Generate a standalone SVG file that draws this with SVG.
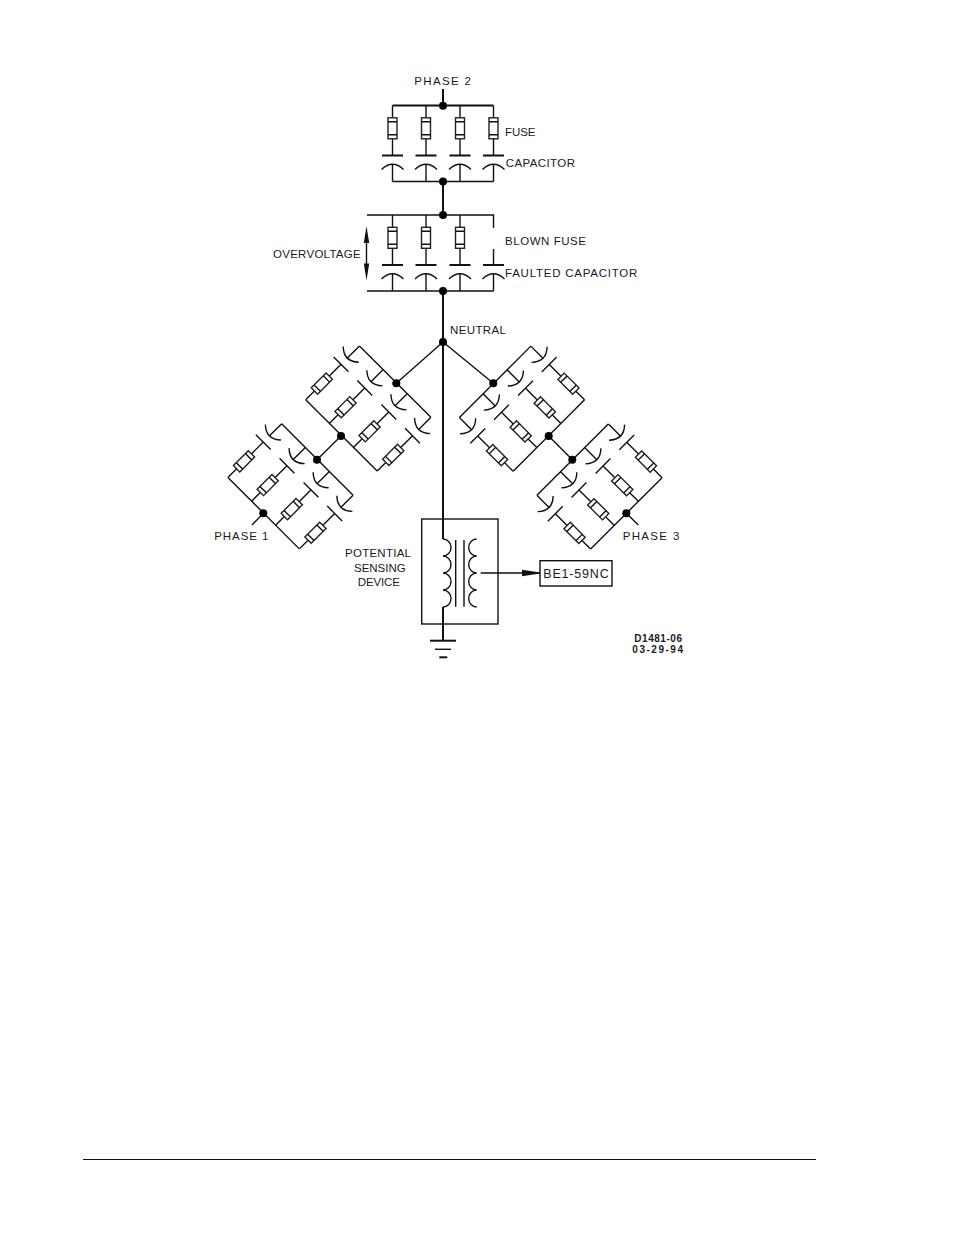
<svg xmlns="http://www.w3.org/2000/svg" width="954" height="1235" viewBox="0 0 954 1235">
<style>
.l{fill:none;stroke:#111;stroke-width:1.4}
.h{fill:none;stroke:#111;stroke-width:2}
.f{fill:#fff;stroke:#222;stroke-width:1.4}
.d{fill:#000}
text{font-family:"Liberation Sans",Arial,sans-serif;font-size:11.5px;fill:#1a1a1a}
.s{font-size:10px;font-weight:bold}
</style>
<defs>
<g id="fuse">
<rect class="f" x="-4.5" y="-10.5" width="9" height="21"/>
<path class="l" d="M-4.5,-6.5H4.5M-4.5,6.5H4.5"/>
</g>
<g id="cap">
<path class="h" d="M-10.5,0H10.5"/>
<path class="l" d="M-11,14Q0,3.5 11,14"/>
</g>
<g id="cap-thin">
<path class="l" d="M-10.5,0H10.5M-11,14Q0,3.5 11,14"/>
</g>
<g id="branch">
<path class="l" d="M0,-38V-25.7M0,-4.7V12M0,20.5V38"/>
<use href="#fuse" y="-15.2"/>
<use href="#cap" y="12"/>
</g>
<g id="branch-thin">
<path class="l" d="M0,-38V-25.7M0,-4.7V12M0,20.5V38"/>
<use href="#fuse" y="-15.2"/>
<use href="#cap-thin" y="12"/>
</g>
<g id="bank">
<path class="l" d="M-50.5,-38H50.5M-50.5,38H50.5"/>
<use href="#branch-thin" x="-50.5"/>
<use href="#branch-thin" x="-17"/>
<use href="#branch-thin" x="17"/>
<use href="#branch-thin" x="50.5"/>
</g>
<marker id="ah" markerUnits="userSpaceOnUse" markerWidth="18" markerHeight="8" refX="18" refY="4" orient="auto"><path d="M0,0.7L18,3.4V4.6L0,7.3Z" fill="#111"/></marker>
</defs>

<g id="bank-top" transform="translate(443,143.5)">
<path class="h" d="M-50.5,-38H50.5"/>
<path class="l" d="M-50.5,38H50.5"/>
<use href="#branch" x="-50.5"/>
<use href="#branch" x="-17"/>
<use href="#branch" x="17"/>
<use href="#branch" x="50.5"/>
</g>

<g id="bank-faulted" transform="translate(443,253)">
<path class="l" d="M-76,-38H50.5V-25M-76,38H50.5M50.5,-4V12M50.5,20.5V38"/>
<use href="#branch" x="-50.5"/>
<use href="#branch" x="-17"/>
<use href="#branch" x="17"/>
<use href="#cap" x="50.5" y="12"/>
</g>

<g id="bank-phase1-upper"><use href="#bank" transform="translate(368.3,408.5) rotate(-135)"/></g>
<g id="bank-phase1-lower"><use href="#bank" transform="translate(290.5,486.3) rotate(-135)"/></g>
<g id="bank-phase3-upper"><use href="#bank" transform="translate(522,408.7) rotate(135)"/></g>
<g id="bank-phase3-lower"><use href="#bank" transform="translate(599.5,486.5) rotate(135)"/></g>

<g id="transformer">
<rect class="l" x="421.7" y="519" width="76.3" height="105"/>
<path class="l" d="M443,539a8,8.5 0 0 1 0,17a8,8.5 0 0 1 0,17a8,8.5 0 0 1 0,17a8,8.5 0 0 1 0,17"/>
<path class="l" d="M455.7,540V606.7M464,540V606.7"/>
<path class="l" d="M476.7,539a8,8.5 0 0 0 0,17a8,8.5 0 0 0 0,17a8,8.5 0 0 0 0,17a8,8.5 0 0 0 0,17"/>
</g>

<g id="relay">
<rect class="l" x="540" y="560.7" width="72" height="25.3"/>
<text x="543.3" y="578.3" textLength="65.4" lengthAdjust="spacing" font-size="12.5" style="font-size:12.5px">BE1-59NC</text>
</g>

<g id="ground">
<path class="h" d="M430,640.7H456"/>
<path class="l" d="M435,649.3H451"/>
<path class="h" d="M439.3,657.3H447.3"/>
</g>

<g id="overvoltage-arrow">
<path class="l" d="M366.5,238V268"/>
<path d="M366.5,226L369.2,243H363.8Z M366.5,280.5L369.2,263.5H363.8Z" fill="#111"/>
</g>

<g id="connectors">
<path class="h" d="M443,89V105.7M443,181.5V215M443,291V539M443,607V640.7"/>
<path class="l" d="M443,342L396.3,383.3M443,342L493.3,383.3M341,436L317,459.7M548.7,436L572.3,459.7M263.3,513.3L252,525M626.3,513.3L638.3,525"/>
<path class="l" d="M480.7,573H540" marker-end="url(#ah)"/>
<g class="d">
<circle cx="443" cy="105.7" r="4"/><circle cx="443" cy="181.5" r="4"/><circle cx="443" cy="215" r="4"/><circle cx="443" cy="291" r="4"/><circle cx="443" cy="342" r="4"/>
<circle cx="396.3" cy="383.3" r="4"/><circle cx="341" cy="436" r="4"/><circle cx="317" cy="459.7" r="4"/><circle cx="263.3" cy="513.3" r="4"/>
<circle cx="493.3" cy="383.3" r="4"/><circle cx="548.7" cy="436" r="4"/><circle cx="572.3" cy="459.7" r="4"/><circle cx="626.3" cy="513.3" r="4"/>
</g>
</g>

<g id="labels">
<text x="414.3" y="85" textLength="56.7" lengthAdjust="spacing">PHASE 2</text>
<text x="505" y="135.7" textLength="30.5" lengthAdjust="spacing">FUSE</text>
<text x="505.7" y="166.7" textLength="69.3" lengthAdjust="spacing">CAPACITOR</text>
<text x="505" y="245.3" textLength="81" lengthAdjust="spacing">BLOWN FUSE</text>
<text x="505" y="276.7" textLength="132.3" lengthAdjust="spacing">FAULTED CAPACITOR</text>
<text x="273" y="257.7" textLength="87.7" lengthAdjust="spacing">OVERVOLTAGE</text>
<text x="450" y="334" textLength="56" lengthAdjust="spacing">NEUTRAL</text>
<text x="214.3" y="540" textLength="54" lengthAdjust="spacing">PHASE 1</text>
<text x="622.7" y="540" textLength="56.6" lengthAdjust="spacing">PHASE 3</text>
<text x="345" y="557" textLength="66" lengthAdjust="spacing">POTENTIAL</text>
<text x="354" y="571.7" textLength="51.7" lengthAdjust="spacing">SENSING</text>
<text x="357.7" y="586.3" textLength="42.3" lengthAdjust="spacing">DEVICE</text>
<text class="s" x="634.3" y="642.3" textLength="47.7" lengthAdjust="spacing">D1481-06</text>
<text class="s" x="632.3" y="653" textLength="50.7" lengthAdjust="spacing">03-29-94</text>
</g>

<path id="footer-rule" d="M83,1159.5H816" fill="none" stroke="#111" stroke-width="1.2"/>
</svg>
